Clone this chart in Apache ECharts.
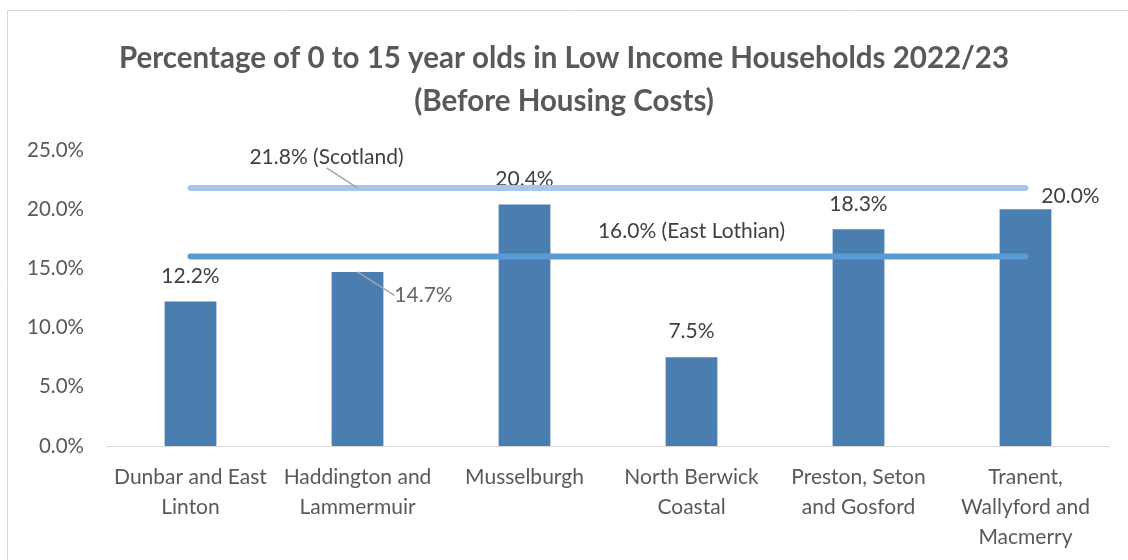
<!DOCTYPE html>
<html>
<head>
<meta charset="utf-8">
<script src="https://cdn.jsdelivr.net/npm/echarts@6/dist/echarts.min.js"></script>
<style>html,body{margin:0;padding:0;background:#fff}#c{width:1128px;height:560px}</style>
</head>
<body>
<div id="c"></div>
<script>
const categories = ["Dunbar and East\nLinton", "Haddington and\nLammermuir", "Musselburgh", "North Berwick\nCoastal", "Preston, Seton\nand Gosford", "Tranent,\nWallyford and\nMacmerry"];
const values = [12.2, 14.7, 20.4, 7.5, 18.3, 20.0];
const scotland = 21.8;
const eastLothian = 16.0;
const yTicks = [0, 5, 10, 15, 20, 25];
const titleLines = ["Percentage of 0 to 15 year olds in Low Income Households 2022/23", "(Before Housing Costs)"];

const FONT = 'Lato';
const TXT = '#404040';
const AX = '#595959';
const LEAD = {show: true, lineStyle: {color: '#a6a6a6', width: 1.5}};

// which bar's label is drawn off to the side with a leader line (styling only)
const calloutBar = 1;
const barLabelShift = {5: {dx: 45, dy: 13}};

const chart = echarts.init(document.getElementById('c'));
chart.setOption({
  animation: false,
  backgroundColor: '#fff',
  title: {
    text: titleLines.join('\n'),
    left: 'center', top: 32,
    textStyle: {fontFamily: FONT, fontWeight: 'bold', fontSize: 29.5, color: AX, lineHeight: 43}
  },
  graphic: [{
    type: 'rect', silent: true, z: -1,
    shape: {x: 7.5, y: 10.5, width: 1200, height: 700},
    style: {fill: 'none', stroke: '#d9d9d9', lineWidth: 1}
  }],
  grid: {left: 107, right: 19, top: 150, bottom: 114},
  xAxis: {
    type: 'category', data: categories,
    axisLine: {lineStyle: {color: '#d9d9d9', width: 1}},
    axisTick: {show: false},
    axisLabel: {fontFamily: FONT, fontSize: 21, color: AX, lineHeight: 30, margin: 16, interval: 0}
  },
  yAxis: {
    type: 'value', min: yTicks[0], max: yTicks[yTicks.length - 1], interval: yTicks[1] - yTicks[0],
    axisLine: {show: false}, axisTick: {show: false}, splitLine: {show: false},
    axisLabel: {fontFamily: FONT, fontSize: 20.5, color: AX, margin: 23, formatter: v => v.toFixed(1) + '%'}
  },
  series: [
    {
      type: 'bar', barWidth: '31%', z: 2,
      itemStyle: {color: '#4a7eb0'},
      data: values.map((v, i) => i === calloutBar ? {value: v, label: {show: false}} : v),
      label: {show: true, position: 'top', distance: 15, fontFamily: FONT, fontSize: 21, color: TXT, formatter: p => p.value.toFixed(1) + '%'},
      labelLayout: p => barLabelShift[p.dataIndex] ? {dx: barLabelShift[p.dataIndex].dx, dy: barLabelShift[p.dataIndex].dy} : {}
    },
    {
      // anchor for the side label of the called-out bar
      type: 'scatter', z: 4, symbolSize: 0.1, silent: true,
      data: values.map((v, i) => i === calloutBar ? v : '-'),
      label: {show: true, position: 'top', distance: 0, fontFamily: FONT, fontSize: 21, color: TXT, formatter: p => p.value.toFixed(1) + '%'},
      labelLine: LEAD,
      labelLayout: {dx: 66, dy: 34}
    },
    {
      type: 'line', z: 3, showSymbol: true, symbol: 'circle', symbolSize: 0.1,
      lineStyle: {color: '#a9c5e8', width: 6, cap: 'round'},
      itemStyle: {color: '#a9c5e8'},
      data: categories.map((c, i) => i === 1 ? {value: scotland, label: {show: true}, labelLine: LEAD} : scotland),
      label: {show: false, position: 'top', distance: 5, fontFamily: FONT, fontSize: 21, color: TXT, formatter: p => p.value.toFixed(1) + '% (Scotland)'},
      labelLayout: p => p.dataIndex === 1 ? {dx: -31, dy: -15} : {}
    },
    {
      type: 'line', z: 3, showSymbol: true, symbol: 'circle', symbolSize: 0.1,
      lineStyle: {color: '#5b9bd5', width: 6, cap: 'round'},
      itemStyle: {color: '#5b9bd5'},
      data: categories.map((c, i) => i === 3 ? {value: eastLothian, label: {show: true}} : eastLothian),
      label: {show: false, position: 'top', distance: 15, fontFamily: FONT, fontSize: 21, color: TXT, formatter: p => p.value.toFixed(1) + '% (East Lothian)'}
    }
  ]
});
</script>
</body>
</html>
